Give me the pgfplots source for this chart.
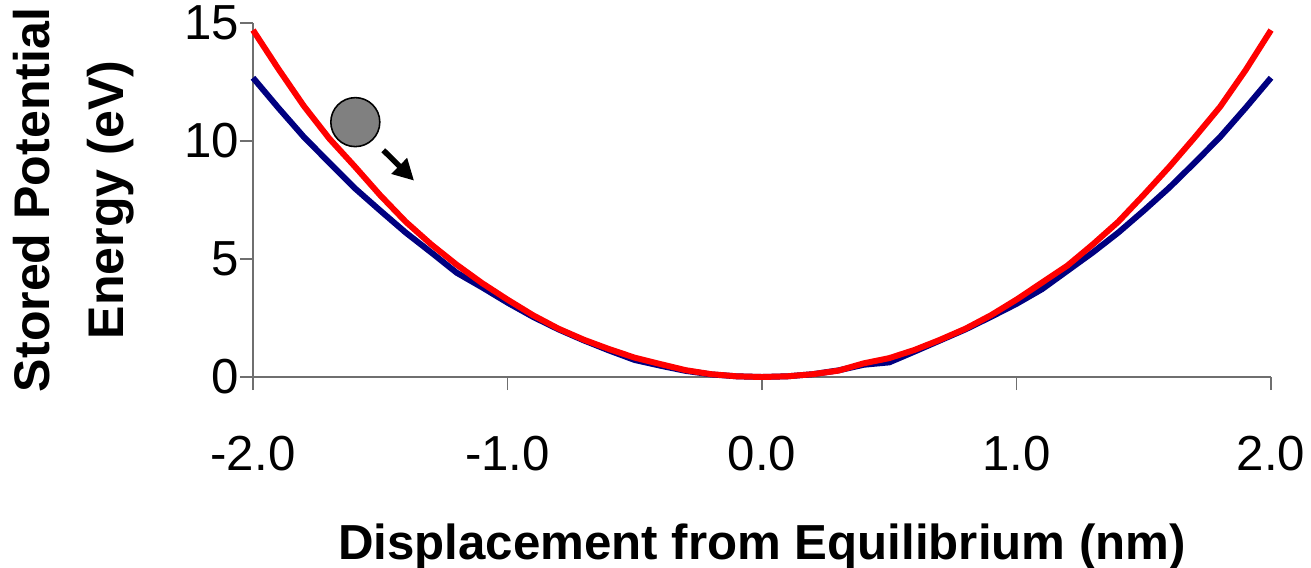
\documentclass[border=0pt]{standalone}
\usepackage{fontspec}
\setmainfont{Liberation Sans}
\usepackage{pgfplots}
\pgfplotsset{compat=1.18}
\usetikzlibrary{arrows.meta}
\definecolor{navyb}{HTML}{000080}
\definecolor{redl}{HTML}{FF0000}
\definecolor{axgray}{HTML}{6F6F6F}
\pgfplotstableread{
x y
-2.0 12.68
-1.9 11.40
-1.8 10.17
-1.7 9.08
-1.6 8.00
-1.5 7.05
-1.4 6.12
-1.3 5.28
-1.2 4.42
-1.1 3.80
-1.0 3.15
-0.9 2.55
-0.8 2.02
-0.7 1.55
-0.6 1.12
-0.5 0.72
-0.4 0.48
-0.3 0.26
-0.2 0.11
-0.1 0.03
0.0 0.00
0.1 0.03
0.2 0.12
0.3 0.28
0.4 0.52
0.5 0.62
0.6 1.08
0.7 1.55
0.8 2.02
0.9 2.55
1.0 3.10
1.1 3.72
1.2 4.50
1.3 5.28
1.4 6.12
1.5 7.05
1.6 8.02
1.7 9.08
1.8 10.17
1.9 11.40
2.0 12.68
}\bluedata
\pgfplotstableread{
x y
-2.0 14.70
-1.9 13.05
-1.8 11.48
-1.7 10.10
-1.6 8.92
-1.5 7.70
-1.4 6.58
-1.3 5.62
-1.2 4.76
-1.1 3.98
-1.0 3.28
-0.9 2.62
-0.8 2.05
-0.7 1.58
-0.6 1.18
-0.5 0.82
-0.4 0.55
-0.3 0.29
-0.2 0.12
-0.1 0.03
0.0 0.00
0.1 0.03
0.2 0.12
0.3 0.27
0.4 0.58
0.5 0.80
0.6 1.15
0.7 1.58
0.8 2.05
0.9 2.62
1.0 3.28
1.1 4.00
1.2 4.72
1.3 5.62
1.4 6.58
1.5 7.72
1.6 8.90
1.7 10.15
1.8 11.45
1.9 13.00
2.0 14.70
}\reddata
\begin{document}
\begin{tikzpicture}
\begin{axis}[
  name=ax,
  scale only axis,
  width=20.36cm, height=7.08cm,
  xmin=-2, xmax=2, ymin=0, ymax=15,
  clip=false,
  axis x line=bottom, axis y line=left,
  axis line style={-, draw=axgray, line width=0.9pt},
  tick style={draw=axgray, line width=0.9pt},
  tick align=outside,
  major tick length=0.26cm,
  xtick={-2,-1,0,1,2},
  xticklabels={-2.0,-1.0,0.0,1.0,2.0},
  ytick={0,5,10,15},
  yticklabels={0,5,10,15},
  ticklabel style={font=\fontsize{28}{33}\selectfont},
  xticklabel style={yshift=-0.8cm},
  yticklabel style={xshift=0.1cm},
  xlabel={Displacement from Equilibrium (nm)},
  xlabel style={at={(rel axis cs:0.5,0)}, anchor=base, yshift=-3.64cm, font=\fontsize{28}{34}\selectfont\bfseries},
  ylabel={Stored Potential\\Energy (eV)},
  ylabel style={at={([xshift=-3.58cm]rel axis cs:0,0.5)}, anchor=center, rotate=0, align=center, font=\fontsize{28.5}{42}\selectfont\bfseries},
]
\addplot[navyb, line width=3.4pt] table[x=x,y=y] {\bluedata};
\addplot[redl, line width=3.4pt] table[x=x,y=y] {\reddata};
\addplot[only marks, mark=*, mark size=0.49cm, mark options={fill=gray, draw=black, line width=0.9pt}] coordinates {(-1.598,10.8)};
\draw[-{Triangle[length=0.42cm,width=0.42cm]}, line width=0.11cm] (axis cs:-1.488,9.61) -- (axis cs:-1.367,8.32);
\end{axis}
\pgfresetboundingbox
\path (ax.south west) ++(-5.06cm,-3.8cm) rectangle ++(26.22cm,11.34cm);
\end{tikzpicture}
\end{document}
